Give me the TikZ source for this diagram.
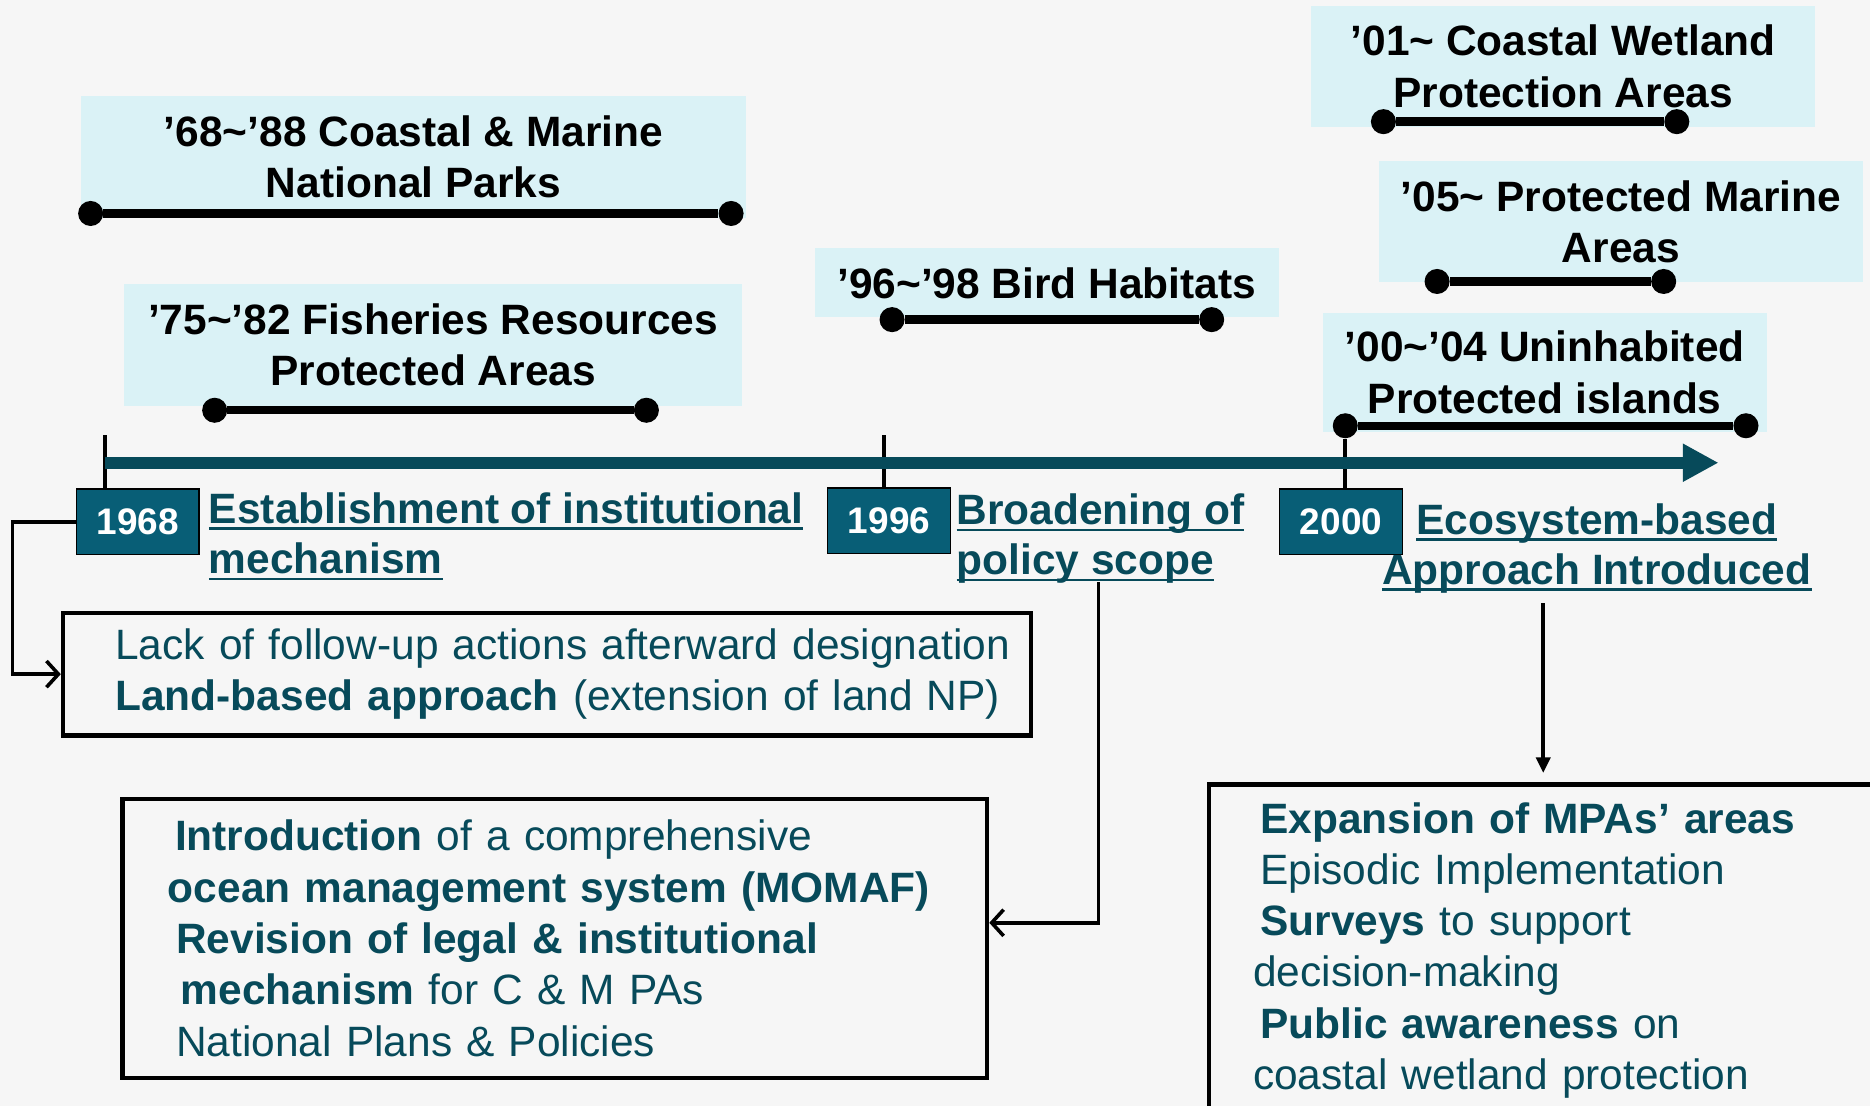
\documentclass[tikz,border=0pt]{standalone}
\usepackage{fontspec}
\setmainfont{Liberation Sans}
\usetikzlibrary{arrows.meta}
\setlength\parindent{0pt}
\hyphenpenalty=10000
\exhyphenpenalty=10000
\definecolor{paper}{RGB}{246,246,246}
\definecolor{boxcyan}{RGB}{218,242,246}
\definecolor{yearteal}{RGB}{8,94,118}
\definecolor{inkteal}{RGB}{7,74,90}
\newcommand{\uln}[1]{\setbox0\hbox{#1}\rlap{\rule[-5.5pt]{\wd0}{2.2pt}}\box0}
\begin{document}
\begin{tikzpicture}[x=1pt,y=-1pt,period/.style={fill=boxcyan,anchor=north west,align=center,inner sep=0pt,font=\fontsize{35.6}{43}\selectfont\bfseries},dot/.style={circle,fill=black,inner sep=0pt,minimum size=21pt},bar/.style={line width=7pt},yearbox/.style={fill=yearteal,draw=black,line width=1.2pt,minimum width=103pt,minimum height=55pt,text=white,font=\fontsize{31}{36}\selectfont\bfseries},head/.style={text=inkteal,align=left,inner sep=0pt,font=\fontsize{35.6}{42}\selectfont\bfseries},note/.style={draw=black,line width=3.5pt,text=inkteal,align=left,anchor=north west,inner ysep=0pt,font=\fontsize{35.6}{43}\selectfont},link/.style={line width=3pt,-{Straight Barb[length=10pt,width=22pt]}},thinlink/.style={line width=3pt,-{Triangle[length=13pt,width=12pt]},shorten >=8pt},tick/.style={line width=3.5pt},axis/.style={draw=inkteal,line width=10pt,-{Triangle[length=30pt,width=30pt]}}]
\useasboundingbox (0,0) rectangle (1568,927);
\fill[paper] (0,0) rectangle (1568,927);
\clip (0,0) rectangle (1568,927);
\node[period,minimum width=557,minimum height=103] (p68) at (68,80) {'68\textasciitilde'88 Coastal \& Marine\\National Parks};
\node[period,minimum width=518,minimum height=102] (p75) at (104,238) {'75\textasciitilde'82 Fisheries Resources\\Protected Areas};
\node[period,minimum width=389,minimum height=58] (p96) at (683,208) {'96\textasciitilde'98 Bird Habitats};
\node[period,minimum width=423,minimum height=101] (p01) at (1099,5) {'01\textasciitilde{} Coastal Wetland\\Protection Areas};
\node[period,minimum width=406,minimum height=101] (p05) at (1156,135) {'05\textasciitilde{} Protected Marine\\Areas};
\node[period,minimum width=372,minimum height=100] (p00) at (1109,262) {'00\textasciitilde'04 Uninhabited\\Protected islands};
\node[dot] (a68) at (76,179) {}; \node[dot] (b68) at (613,179) {}; \draw[bar] (a68) -- (b68);
\node[dot] (a75) at (180,344) {}; \node[dot] (b75) at (542,344) {}; \draw[bar] (a75) -- (b75);
\node[dot] (a96) at (748,268) {}; \node[dot] (b96) at (1016,268) {}; \draw[bar] (a96) -- (b96);
\node[dot] (a01) at (1160,102) {}; \node[dot] (b01) at (1406,102) {}; \draw[bar] (a01) -- (b01);
\node[dot] (a05) at (1205,236) {}; \node[dot] (b05) at (1395,236) {}; \draw[bar] (a05) -- (b05);
\node[dot] (a00) at (1128,357) {}; \node[dot] (b00) at (1464,357) {}; \draw[bar] (a00) -- (b00);
\node[yearbox] (y68) at (115.5,437.5) {1968};
\node[yearbox] (y96) at (745.5,436.5) {1996};
\node[yearbox] (y00) at (1124.5,437.5) {2000};
\coordinate (t68) at (88,365); \draw[tick] (t68) -- (t68 |- y68.north);
\coordinate (t96) at (741,365); \draw[tick] (t96) -- (t96 |- y96.north);
\draw[tick] (a00) -- (a00 |- y00.north);
\coordinate (ax0) at (88,388); \coordinate (ax1) at (1441,388);
\draw[axis] (ax0) -- (ax1);
\node[head,anchor=base west] (h68) at (175,481) {\uln{Establishment of institutional}\\\uln{mechanism}};
\node[head,anchor=base west] (h96) at (802,482) {\uln{Broadening of}\\\uln{policy scope}};
\node[head,anchor=base,align=center] (h00) at (1339,490) {\uln{Ecosystem-based}\\\uln{Approach Introduced}};
\node[note,text width=792,inner xsep=10,minimum height=103] (nA) at (51,512) {\hspace*{34pt}Lack of follow-up actions afterward designation\\\hspace*{34pt}\textbf{Land-based approach} (extension of land NP)};
\node[note,text width=649,inner xsep=38,minimum height=234] (nB) at (101,668) {\hspace*{6pt}\textbf{Introduction} of a comprehensive\\\textbf{ocean management system (MOMAF)}\\\hspace*{7pt}\textbf{Revision of legal \& institutional}\\\hspace*{11pt}\textbf{mechanism} for C \& M PAs\\\hspace*{7pt}National Plans \& Policies};
\node[note,text width=520,inner xsep=37,inner ysep=15,text depth=300pt] (nC) at (1012,656) {\hspace*{6pt}\textbf{Expansion of MPAs' areas}\\\hspace*{6pt}Episodic Implementation\\\hspace*{6pt}\textbf{Surveys} to support\\decision-making\\\hspace*{6pt}\textbf{Public awareness} on\\coastal wetland protection};
\draw[link] (y68.west) -- ++(-53,0) |- (nA.west);
\coordinate (k96) at (921,488); \draw[link] (k96) |- ([yshift=13pt]nB.east);
\coordinate (k00) at (1294,506); \draw[thinlink] (k00) -- (k00 |- nC.north);
\end{tikzpicture}
\end{document}
